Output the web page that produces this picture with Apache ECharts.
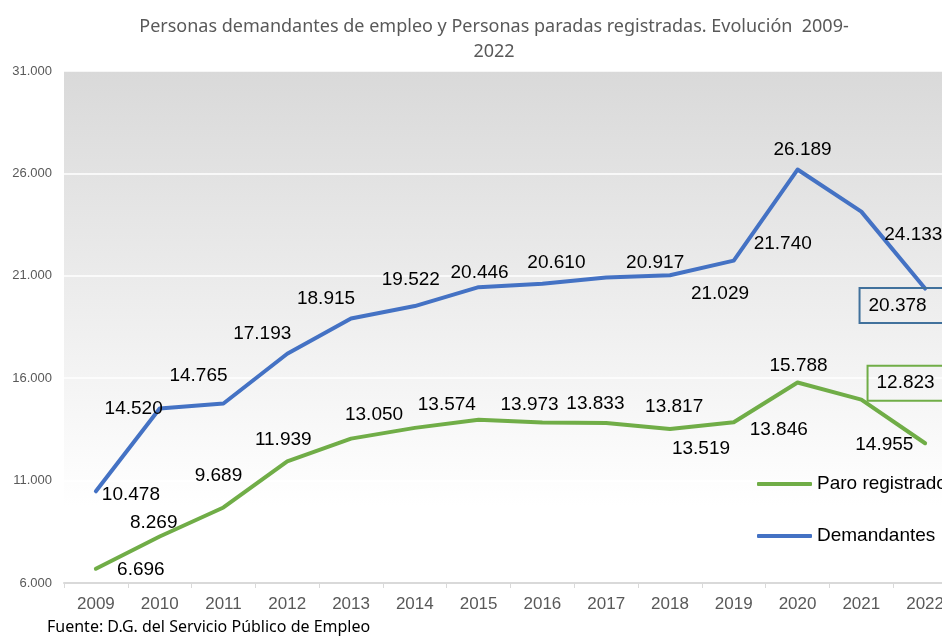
<!DOCTYPE html>
<html>
<head>
<meta charset="utf-8">
<title>Demandantes de empleo y paro registrado 2009-2022</title>
<script src="https://cdn.jsdelivr.net/npm/echarts@6/dist/echarts.min.js"></script>
<style>
  html, body { margin: 0; padding: 0; background: #fff; }
  #chart { width: 942px; height: 639px; }
</style>
</head>
<body>
<div id="chart"></div>
<script>
// datos
const years = ['2009', '2010', '2011', '2012', '2013', '2014', '2015', '2016', '2017', '2018', '2019', '2020', '2021', '2022']
const paroRegistrado = [6696, 8269, 9689, 11939, 13050, 13574, 13973, 13833, 13817, 13519, 13846, 15788, 14955, 12823]
const demandantes = [10478, 14520, 14765, 17193, 18915, 19522, 20446, 20610, 20917, 21029, 21740, 26189, 24133, 20378]

// desplazamiento de cada etiqueta respecto a su punto (como en el Excel)
const paroLabelOffsets = [[45, 1], [-6, -14], [-5, -32], [-4, -22], [23, -24], [32, -23], [51, -15], [53, -19], [68, -16], [31, 20], [45, 7], [1, -17], [23, 45], [-12, -60]]
const demLabelOffsets = [[35, 3], [-26, 0], [-25, -28], [-25, -20], [-25, -20], [-4, -26], [1, -14], [14, -21], [49, -15], [50, 19], [49, -17], [5, -20], [52, 23], [-20, 17]]

const GREEN = '#70AD47'
const BLUE = '#4472C4'

function fmt(v) {
  return String(v).replace(/\B(?=(\d{3})+(?!\d))/g, '.')
}

function buildData(values, offsets, boxColor) {
  return values.map((v, i) => {
    const item = { value: v, label: { offset: offsets[i] } }
    if (i === values.length - 1) {
      item.label.borderColor = boxColor
      item.label.borderWidth = 2
      item.label.padding = [9, 24, 5, 9]
    }
    return item
  })
}

function makeSeries(name, values, offsets, color, boxColor) {
  return {
    name: name,
    type: 'line',
    symbol: 'circle',
    symbolSize: 1,
    showSymbol: true,
    data: buildData(values, offsets, boxColor),
    itemStyle: { color: color },
    lineStyle: { color: color, width: 4, cap: 'round', join: 'round' },
    label: {
      show: true,
      position: 'inside',
      formatter: (p) => fmt(p.value),
      fontFamily: 'Liberation Sans',
      fontSize: 19,
      lineHeight: 21,
      color: '#000'
    },
    emphasis: { disabled: true },
    animation: false
  }
}

const chart = echarts.init(document.getElementById('chart'))

chart.setOption({
  animation: false,
  grid: {
    left: 64,
    top: 71,
    right: -15,
    bottom: 56,
    outerBoundsMode: 'none',
    containLabel: false,
    show: true,
    borderWidth: 0,
    backgroundColor: new echarts.graphic.LinearGradient(0, 0, 0, 1, [
      { offset: 0, color: '#D9D9D9' },
      { offset: 0.85, color: '#FFFFFF' },
      { offset: 1, color: '#FFFFFF' }
    ])
  },
  legend: {
    orient: 'vertical',
    left: 757,
    top: 474,
    padding: 0,
    icon: 'roundRect',
    itemWidth: 55,
    itemHeight: 4,
    itemGap: 32,
    data: ['Paro registrado', 'Demandantes'],
    textStyle: {
      fontFamily: 'Liberation Sans',
      fontSize: 19,
      lineHeight: 20,
      color: '#000'
    }
  },
  xAxis: {
    type: 'category',
    data: years,
    boundaryGap: true,
    axisLine: { lineStyle: { color: '#D9D9D9', width: 2 } },
    axisTick: { show: true, length: 5, lineStyle: { color: '#D9D9D9' } },
    axisLabel: {
      fontFamily: 'Liberation Sans',
      fontSize: 17,
      color: '#595959',
      margin: 13
    }
  },
  yAxis: {
    type: 'value',
    min: 6000,
    max: 31000,
    interval: 5000,
    axisLine: { show: false },
    axisTick: { show: false },
    axisLabel: {
      fontFamily: 'Liberation Sans',
      fontSize: 13,
      color: '#595959',
      margin: 12,
      formatter: (v) => fmt(v)
    },
    splitLine: { lineStyle: { color: '#FFFFFF', width: 1.5 } }
  },
  graphic: [
    {
      type: 'text',
      x: 494,
      y: 14,
      style: {
        text: 'Personas demandantes de empleo y Personas paradas registradas. Evolución  2009-\n2022',
        fontFamily: 'Noto Sans',
        fontSize: 18,
        lineHeight: 25,
        fill: '#595959',
        textAlign: 'center',
        textVerticalAlign: 'top'
      }
    },
    {
      type: 'text',
      x: 47,
      y: 619,
      style: {
        text: 'Fuente: D.G. del Servicio Público de Empleo',
        fontFamily: 'Noto Sans',
        fontSize: 16,
        fill: '#000',
        textVerticalAlign: 'top'
      }
    }
  ],
  series: [
    makeSeries('Paro registrado', paroRegistrado, paroLabelOffsets, GREEN, GREEN),
    makeSeries('Demandantes', demandantes, demLabelOffsets, BLUE, '#41719C')
  ]
})

window.addEventListener('resize', () => chart.resize())
</script>
</body>
</html>
